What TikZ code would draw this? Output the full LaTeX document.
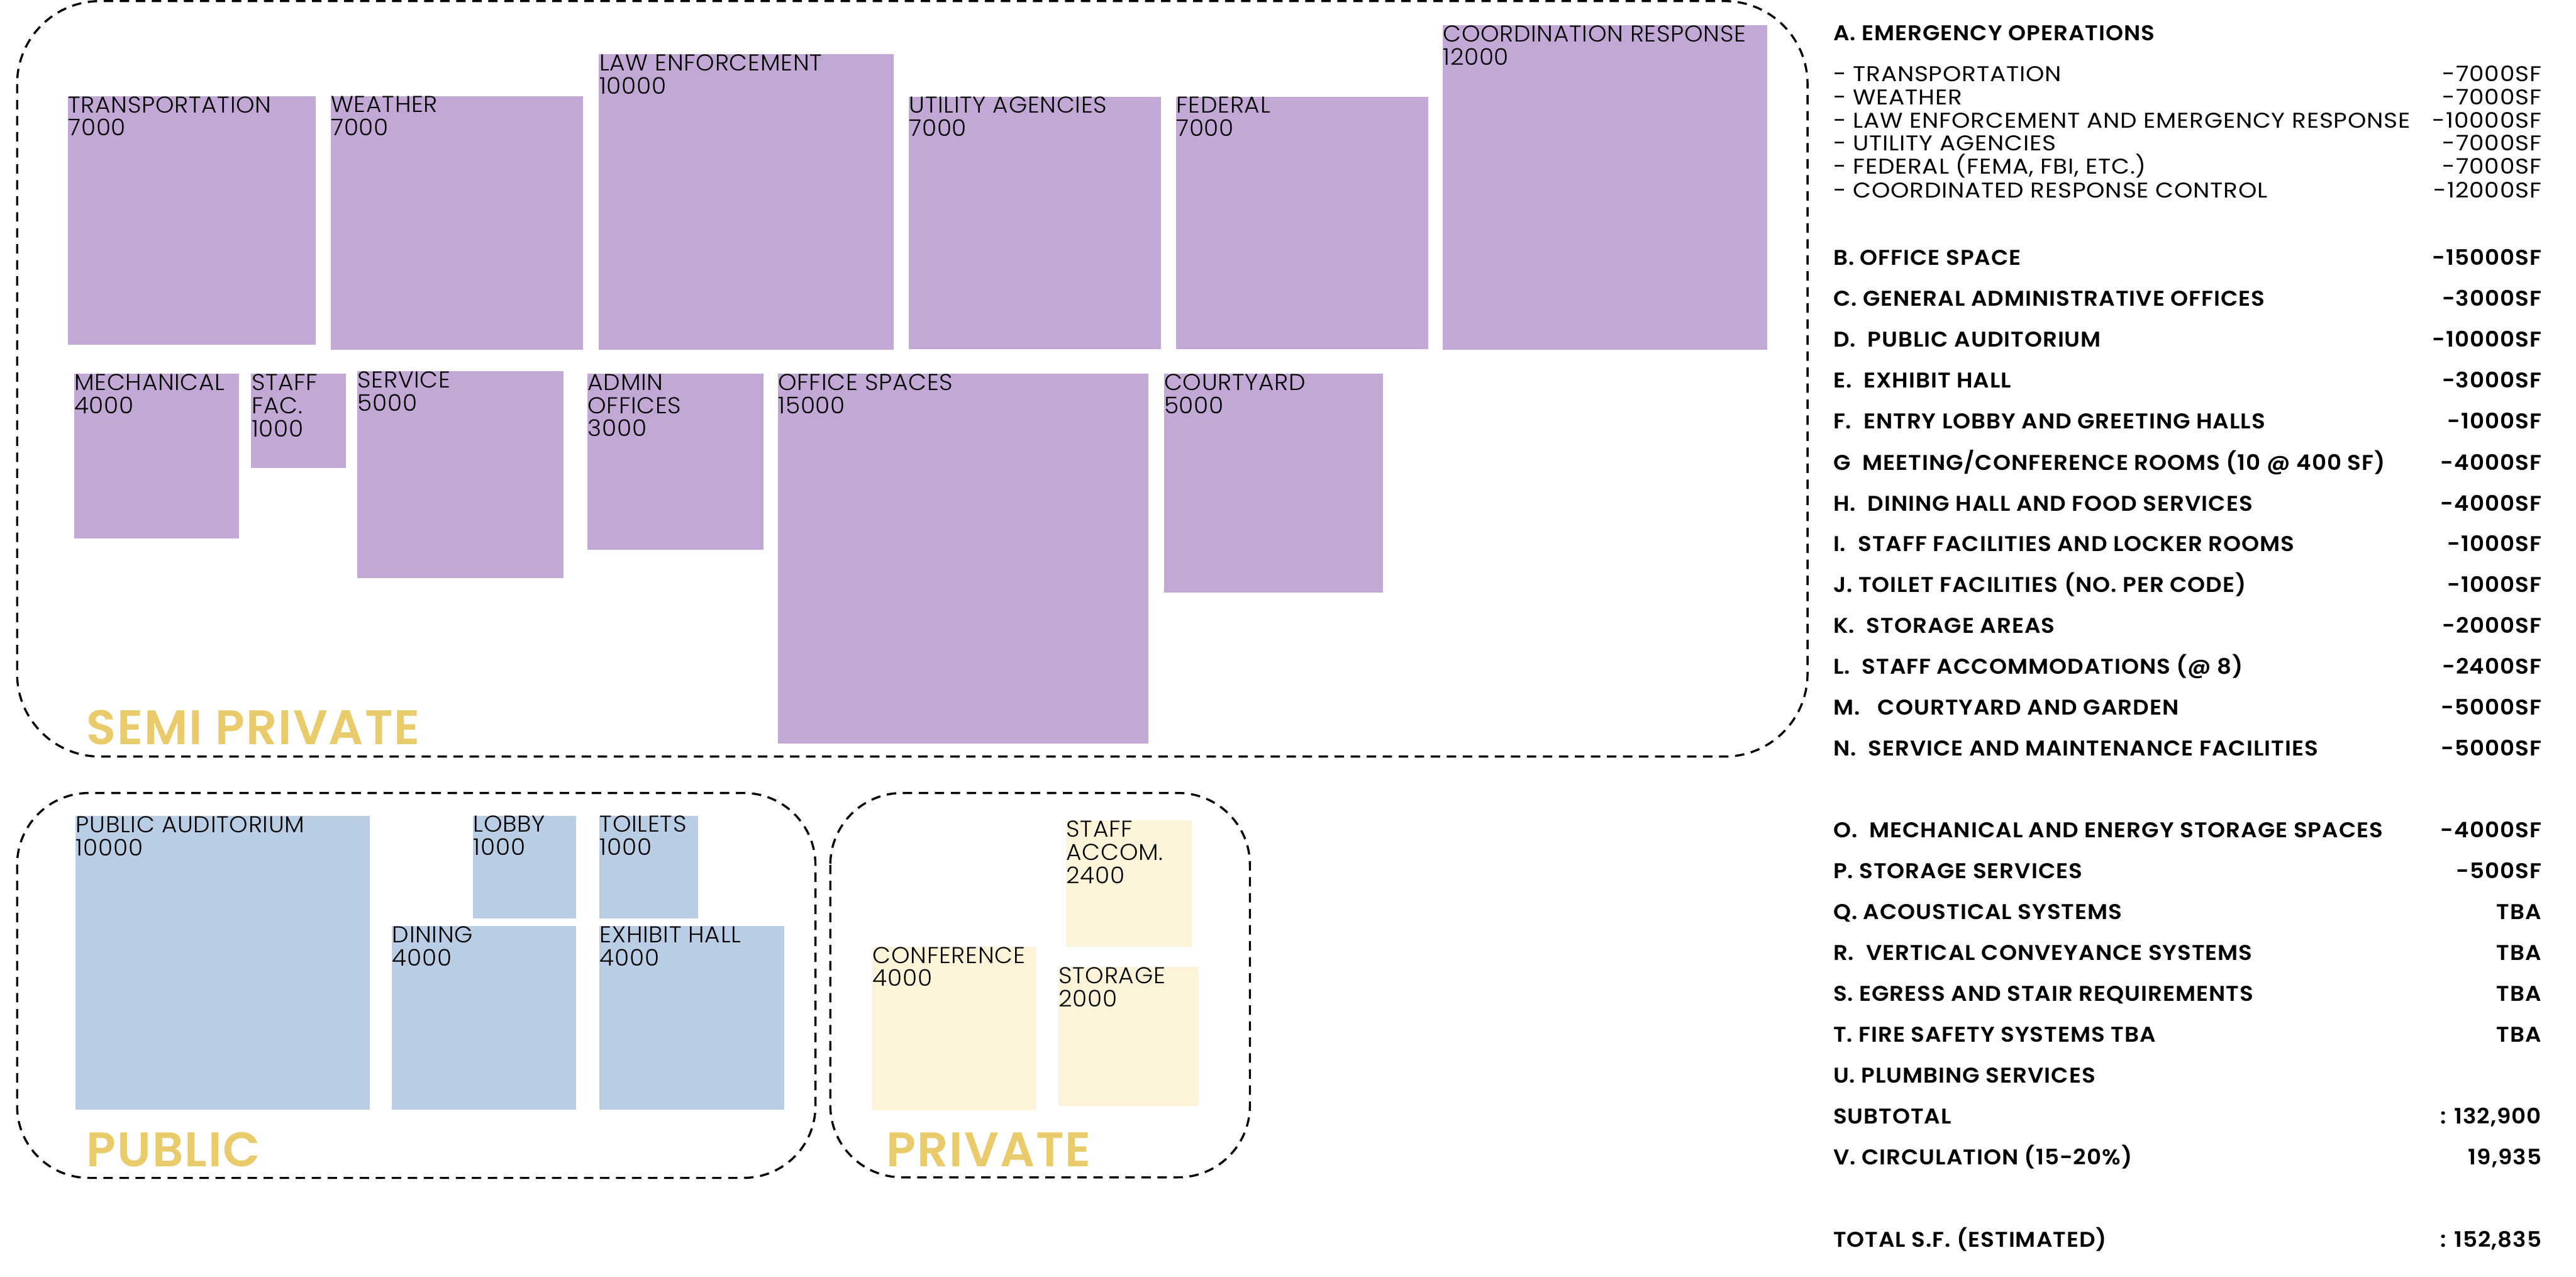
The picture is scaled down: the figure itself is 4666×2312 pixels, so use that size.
\documentclass[tikz,border=0pt]{standalone}
\usepackage{fontspec}
\setmainfont{Poppins}
\newfontfamily\roomfont[FakeStretch=1.03,LetterSpace=2]{Poppins Light}
\newfontfamily\tagfont[LetterSpace=2.5]{Poppins SemiBold}
\newfontfamily\listfont[FakeStretch=1.05,LetterSpace=3]{Poppins SemiBold}
\newfontfamily\subfont[FakeStretch=1.1,LetterSpace=2.5]{Poppins}
\definecolor{semicol}{HTML}{C1A8D5}
\definecolor{pubcol}{HTML}{B9CDE4}
\definecolor{privcol}{HTML}{FDF3D8}
\definecolor{tagcol}{HTML}{E9CB6C}

\begin{document}
\begin{tikzpicture}[
  x=0.01cm, y=-0.01cm,
  zone/.style={draw, line width=1.1pt, dash pattern=on 0.17cm off 0.12cm},
  room/.style={anchor=north west, inner sep=0pt, align=left,
    font=\roomfont\fontsize{11.8}{11.9}\selectfont},
  zonetag/.style={anchor=base west, inner sep=0pt, text=tagcol,
    font=\tagfont\fontsize{25}{25}\selectfont},
  head/.style={anchor=base west, inner sep=0pt, font=\listfont\fontsize{11}{11}\selectfont},
  headval/.style={anchor=base east, inner sep=0pt, font=\listfont\fontsize{11}{11}\selectfont},
  sub/.style={anchor=base west, inner sep=0pt, font=\subfont\fontsize{11}{11}\selectfont},
  subval/.style={anchor=base east, inner sep=0pt, font=\subfont\fontsize{11}{11}\selectfont}
]
\useasboundingbox (0,0) rectangle (4666,2312);

% zones
\draw[zone, rounded corners=1.5cm] (31,2) rectangle (3274,1370);
\draw[zone, rounded corners=1.3cm] (31,1436) rectangle (1477,2133);
\draw[zone, rounded corners=1.3cm] (1504,1436) rectangle (2264,2132);
\node[zonetag] (semitag) at (156,1348) {SEMI PRIVATE};
\node[zonetag] (pubtag) at (156,2113) {PUBLIC};
\node[zonetag] (privtag) at (1605,2113) {PRIVATE};

% semi private rooms
\fill[semicol] (123,174) rectangle (572,624);
\fill[semicol] (599,174) rectangle (1056,633);
\fill[semicol] (1085,98) rectangle (1619,633);
\fill[semicol] (1646,175) rectangle (2103,632);
\fill[semicol] (2130,175) rectangle (2587,632);
\fill[semicol] (2613,46) rectangle (3201,633);
\fill[semicol] (134,677) rectangle (433,975);
\fill[semicol] (455,677) rectangle (626,848);
\fill[semicol] (647,672) rectangle (1021,1047);
\fill[semicol] (1064,677) rectangle (1383,996);
\fill[semicol] (1409,677) rectangle (2080,1347);
\fill[semicol] (2108,677) rectangle (2505,1073);
\node[room] (transport) at (123,174) {TRANSPORTATION\\7000};
\node[room] (weather) at (599,174) {WEATHER\\7000};
\node[room] (law) at (1085,98) {LAW ENFORCEMENT\\10000};
\node[room] (utility) at (1646,175) {UTILITY AGENCIES\\7000};
\node[room] (federal) at (2130,175) {FEDERAL\\7000};
\node[room] (coord) at (2613,46) {COORDINATION RESPONSE\\12000};
\node[room] (mech) at (134,677) {MECHANICAL\\4000};
\node[room] (stafffac) at (455,677) {STAFF\\FAC.\\1000};
\node[room] (service) at (647,672) {SERVICE\\5000};
\node[room] (admin) at (1064,677) {ADMIN\\OFFICES\\3000};
\node[room] (office) at (1409,677) {OFFICE SPACES\\15000};
\node[room] (court) at (2108,677) {COURTYARD\\5000};

% public rooms
\fill[pubcol] (137,1478) rectangle (670,2010);
\fill[pubcol] (857,1477) rectangle (1044,1663);
\fill[pubcol] (1086,1477) rectangle (1265,1663);
\fill[pubcol] (710,1677) rectangle (1044,2010);
\fill[pubcol] (1086,1677) rectangle (1420,2010);
\node[room] (audit) at (137,1478) {PUBLIC AUDITORIUM\\10000};
\node[room] (lobby) at (857,1477) {LOBBY\\1000};
\node[room] (toilets) at (1086,1477) {TOILETS\\1000};
\node[room] (dining) at (710,1677) {DINING\\4000};
\node[room] (exhibit) at (1086,1677) {EXHIBIT HALL\\4000};

% private rooms
\fill[privcol] (1931,1486) rectangle (2159,1714);
\fill[privcol] (1580,1714) rectangle (1877,2011);
\fill[privcol] (1917,1751) rectangle (2171,2003);
\node[room] (staffacc) at (1931,1486) {STAFF\\ACCOM.\\2400};
\node[room] (conf) at (1580,1714) {CONFERENCE\\4000};
\node[room] (storage) at (1917,1751) {STORAGE\\2000};

% program list
\node[head] (itemA) at (3320,73) {A. EMERGENCY OPERATIONS};
\node[sub] (subA1) at (3320,147) {- TRANSPORTATION};
\node[subval] (valA1) at (4604,147) {-7000SF};
\node[sub] (subA2) at (3320,190) {- WEATHER};
\node[subval] (valA2) at (4604,190) {-7000SF};
\node[sub] (subA3) at (3320,232) {- LAW ENFORCEMENT AND EMERGENCY RESPONSE};
\node[subval] (valA3) at (4604,232) {-10000SF};
\node[sub] (subA4) at (3320,273) {- UTILITY AGENCIES};
\node[subval] (valA4) at (4604,273) {-7000SF};
\node[sub] (subA5) at (3320,315) {- FEDERAL (FEMA, FBI, ETC.)};
\node[subval] (valA5) at (4604,315) {-7000SF};
\node[sub] (subA6) at (3320,358) {- COORDINATED RESPONSE CONTROL};
\node[subval] (valA6) at (4604,358) {-12000SF};

\node[head] (itemB) at (3320,480) {B. OFFICE SPACE};
\node[headval] (valB) at (4604,480) {-15000SF};
\node[head] (itemC) at (3320,554) {C. GENERAL ADMINISTRATIVE OFFICES};
\node[headval] (valC) at (4604,554) {-3000SF};
\node[head] (itemD) at (3320,628) {D.\ \ PUBLIC AUDITORIUM};
\node[headval] (valD) at (4604,628) {-10000SF};
\node[head] (itemE) at (3320,702) {E.\ \ EXHIBIT HALL};
\node[headval] (valE) at (4604,702) {-3000SF};
\node[head] (itemF) at (3320,776) {F.\ \ ENTRY LOBBY AND GREETING HALLS};
\node[headval] (valF) at (4604,776) {-1000SF};
\node[head] (itemG) at (3320,851) {G\ \ MEETING/CONFERENCE ROOMS (10 @ 400 SF)};
\node[headval] (valG) at (4604,851) {-4000SF};
\node[head] (itemH) at (3320,925) {H.\ \ DINING HALL AND FOOD SERVICES};
\node[headval] (valH) at (4604,925) {-4000SF};
\node[head] (itemI) at (3320,999) {I.\ \ STAFF FACILITIES AND LOCKER ROOMS};
\node[headval] (valI) at (4604,999) {-1000SF};
\node[head] (itemJ) at (3320,1073) {J. TOILET FACILITIES (NO. PER CODE)};
\node[headval] (valJ) at (4604,1073) {-1000SF};
\node[head] (itemK) at (3320,1147) {K.\ \ STORAGE AREAS};
\node[headval] (valK) at (4604,1147) {-2000SF};
\node[head] (itemL) at (3320,1221) {L.\ \ STAFF ACCOMMODATIONS (@ 8)};
\node[headval] (valL) at (4604,1221) {-2400SF};
\node[head] (itemM) at (3320,1295) {M.\ \ \ COURTYARD AND GARDEN};
\node[headval] (valM) at (4604,1295) {-5000SF};
\node[head] (itemN) at (3320,1369) {N.\ \ SERVICE AND MAINTENANCE FACILITIES};
\node[headval] (valN) at (4604,1369) {-5000SF};

\node[head] (itemO) at (3320,1517) {O.\ \ MECHANICAL AND ENERGY STORAGE SPACES};
\node[headval] (valO) at (4604,1517) {-4000SF};
\node[head] (itemP) at (3320,1591) {P. STORAGE SERVICES};
\node[headval] (valP) at (4604,1591) {-500SF};
\node[head] (itemQ) at (3320,1665) {Q. ACOUSTICAL SYSTEMS};
\node[headval] (valQ) at (4604,1665) {TBA};
\node[head] (itemR) at (3320,1739) {R.\ \ VERTICAL CONVEYANCE SYSTEMS};
\node[headval] (valR) at (4604,1739) {TBA};
\node[head] (itemS) at (3320,1813) {S. EGRESS AND STAIR REQUIREMENTS};
\node[headval] (valS) at (4604,1813) {TBA};
\node[head] (itemT) at (3320,1887) {T. FIRE SAFETY SYSTEMS TBA};
\node[headval] (valT) at (4604,1887) {TBA};
\node[head] (itemU) at (3320,1961) {U. PLUMBING SERVICES};
\node[head] (subtotal) at (3320,2035) {SUBTOTAL};
\node[headval] (valsub) at (4604,2035) {: 132,900};
\node[head] (itemV) at (3320,2109) {V. CIRCULATION (15-20\%)};
\node[headval] (valV) at (4604,2109) {19,935};
\node[head] (total) at (3320,2258) {TOTAL S.F. (ESTIMATED)};
\node[headval] (valtotal) at (4604,2258) {: 152,835};
\end{tikzpicture}
\end{document}
